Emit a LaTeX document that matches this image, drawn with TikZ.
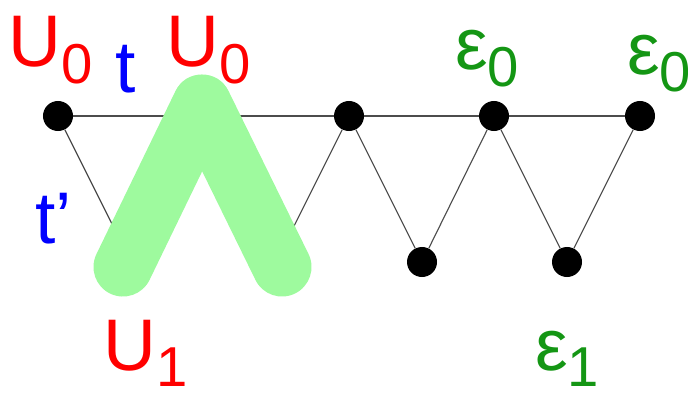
\documentclass[tikz,border=0pt]{standalone}
\usepackage{fontspec}
\setmainfont{Liberation Sans}
\usepackage{tikz}
\definecolor{pathgreen}{RGB}{158,250,158}
\definecolor{labgreen}{RGB}{20,150,20}
\tikzset{
  vertex/.style={circle, fill=black, inner sep=0pt, minimum size=0.75cm},
  edge line/.style={line width=0.8pt, black!70},
  walk line/.style={line width=42pt, pathgreen, line cap=round, line join=round},
  big label/.style={inner sep=0pt, anchor=base west, font=\fontsize{52}{60}\selectfont},
}
\newcommand{\withSub}[2]{#1\raisebox{-0.42cm}{\fontsize{40}{40}\selectfont #2}}

\begin{document}
\begin{tikzpicture}[x=0.025cm, y=-0.025cm]
  \useasboundingbox (0,0) rectangle (688,393);
  % top row and bottom row
  \node[vertex] (a0) at (58,116) {};
  \node[vertex] (a1) at (203,116) {};
  \node[vertex] (a2) at (349,116) {};
  \node[vertex] (a3) at (494,116) {};
  \node[vertex] (a4) at (640,116) {};
  \node[vertex] (b0) at (131,262) {};
  \node[vertex] (b1) at (276,262) {};
  \node[vertex] (b2) at (422,262) {};
  \node[vertex] (b3) at (567,262) {};
  % edges
  \draw[edge line] (a0) -- (a1) -- (a2) -- (a3) -- (a4);
  \draw[edge line] (a0) -- (b0) -- (a1) -- (b1) -- (a2) -- (b2) -- (a3) -- (b3) -- (a4);
  % highlighted walk
  \coordinate (w0) at (123,267);
  \coordinate (w1) at (202,104);
  \coordinate (w2) at (282,267);
  \draw[walk line] (w0) -- (w1) -- (w2);
  % labels
  \node[big label, red] (u0a) at (8,67) {\withSub{U}{0}};
  \node[big label, red] (u0b) at (166,67) {\withSub{U}{0}};
  \node[big label, red] (u1) at (103,370) {\withSub{U}{1}};
  \node[big label, blue] (t) at (115,93) {t};
  \node[big label, blue] (tp) at (35,243) {t’};
  \node[big label, labgreen] (e0a) at (455,70) {\withSub{ε}{0}};
  \node[big label, labgreen] (e0b) at (627,75) {\withSub{ε}{0}};
  \node[big label, labgreen] (e1) at (535,370) {\withSub{ε}{1}};
\end{tikzpicture}
\end{document}
